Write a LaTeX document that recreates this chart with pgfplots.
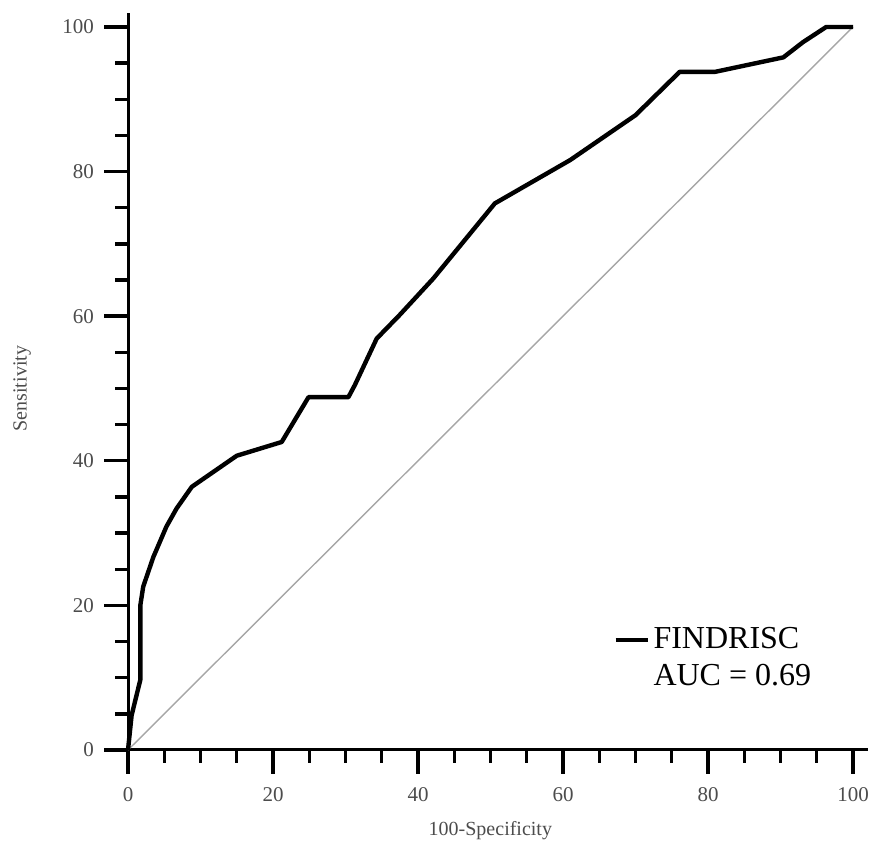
\documentclass[border=0pt]{standalone}
\usepackage{fontspec}
\setmainfont{Liberation Serif}
\usepackage{pgfplots}
\pgfplotsset{compat=1.18}

\begin{document}
\begin{tikzpicture}
% fixed page frame, 1px = 0.5pt, data origin at (0,0)
\useasboundingbox (-64pt,-49.5pt) rectangle (372pt,375pt);
\begin{axis}[
  anchor=origin, at={(0pt,0pt)},
  x=3.625pt, y=3.615pt,
  xmin=0, xmax=102, ymin=0, ymax=102,
  axis lines=left,
  axis line style={-, line width=1.5pt},
  x axis line style={shorten <=-11pt},
  xtick={0,20,...,100}, ytick={0,20,...,100},
  minor tick num=3,
  tick align=outside,
  major tick length=12pt, minor tick length=6.5pt,
  every tick/.style={black, line width=1.7pt},
  /pgf/number format/assume math mode=true,
  tick label style={font=\fontsize{10.5}{12}\selectfont, text=black!70},
  xticklabel style={yshift=-3pt},
  yticklabel style={xshift=-1.5pt},
  xlabel={100-Specificity}, ylabel={Sensitivity},
  label style={font=\fontsize{10}{12}\selectfont, text=black!70},
  xlabel style={at={(axis description cs:0.49,0)}, anchor=north, yshift=-32pt},
  ylabel style={at={(axis description cs:0,0.49)}, anchor=south, rotate=0, yshift=45pt},
  legend style={at={(axis description cs:0.656,0.172)}, anchor=north west, draw=none, fill=none,
    font=\fontsize{16}{18}\selectfont, row sep=2pt, inner sep=0pt},
  legend cell align=left,
  legend image code/.code={\draw[#1, line width=2pt] (0pt,0pt) -- (16pt,0pt);},
  clip=false,
]
\addplot[gray!70, line width=0.7pt, forget plot] coordinates {(0,0) (100,100)};
\addplot[black, line width=2.2pt, line join=round] coordinates {
(0,0) (0.5,4.8) (1.7,9.7) (1.7,20) (2.1,22.6) (3.5,26.7) (5.3,30.9) (6.7,33.4) (8.8,36.4)
(15,40.7) (21.2,42.6) (24.9,48.8) (30.4,48.8) (31.3,50.5) (34.3,56.9) (37.5,60.2)
(42.1,65.2) (50.6,75.6) (61,81.6) (65.5,84.7) (70,87.8) (76.1,93.8) (81,93.8) (90.4,95.8)
(93.1,97.9) (96.3,100) (100,100)};
\addlegendentry{FINDRISC}
\addlegendimage{empty legend}
\addlegendentry{AUC = 0.69}
\end{axis}
\end{tikzpicture}
\end{document}
